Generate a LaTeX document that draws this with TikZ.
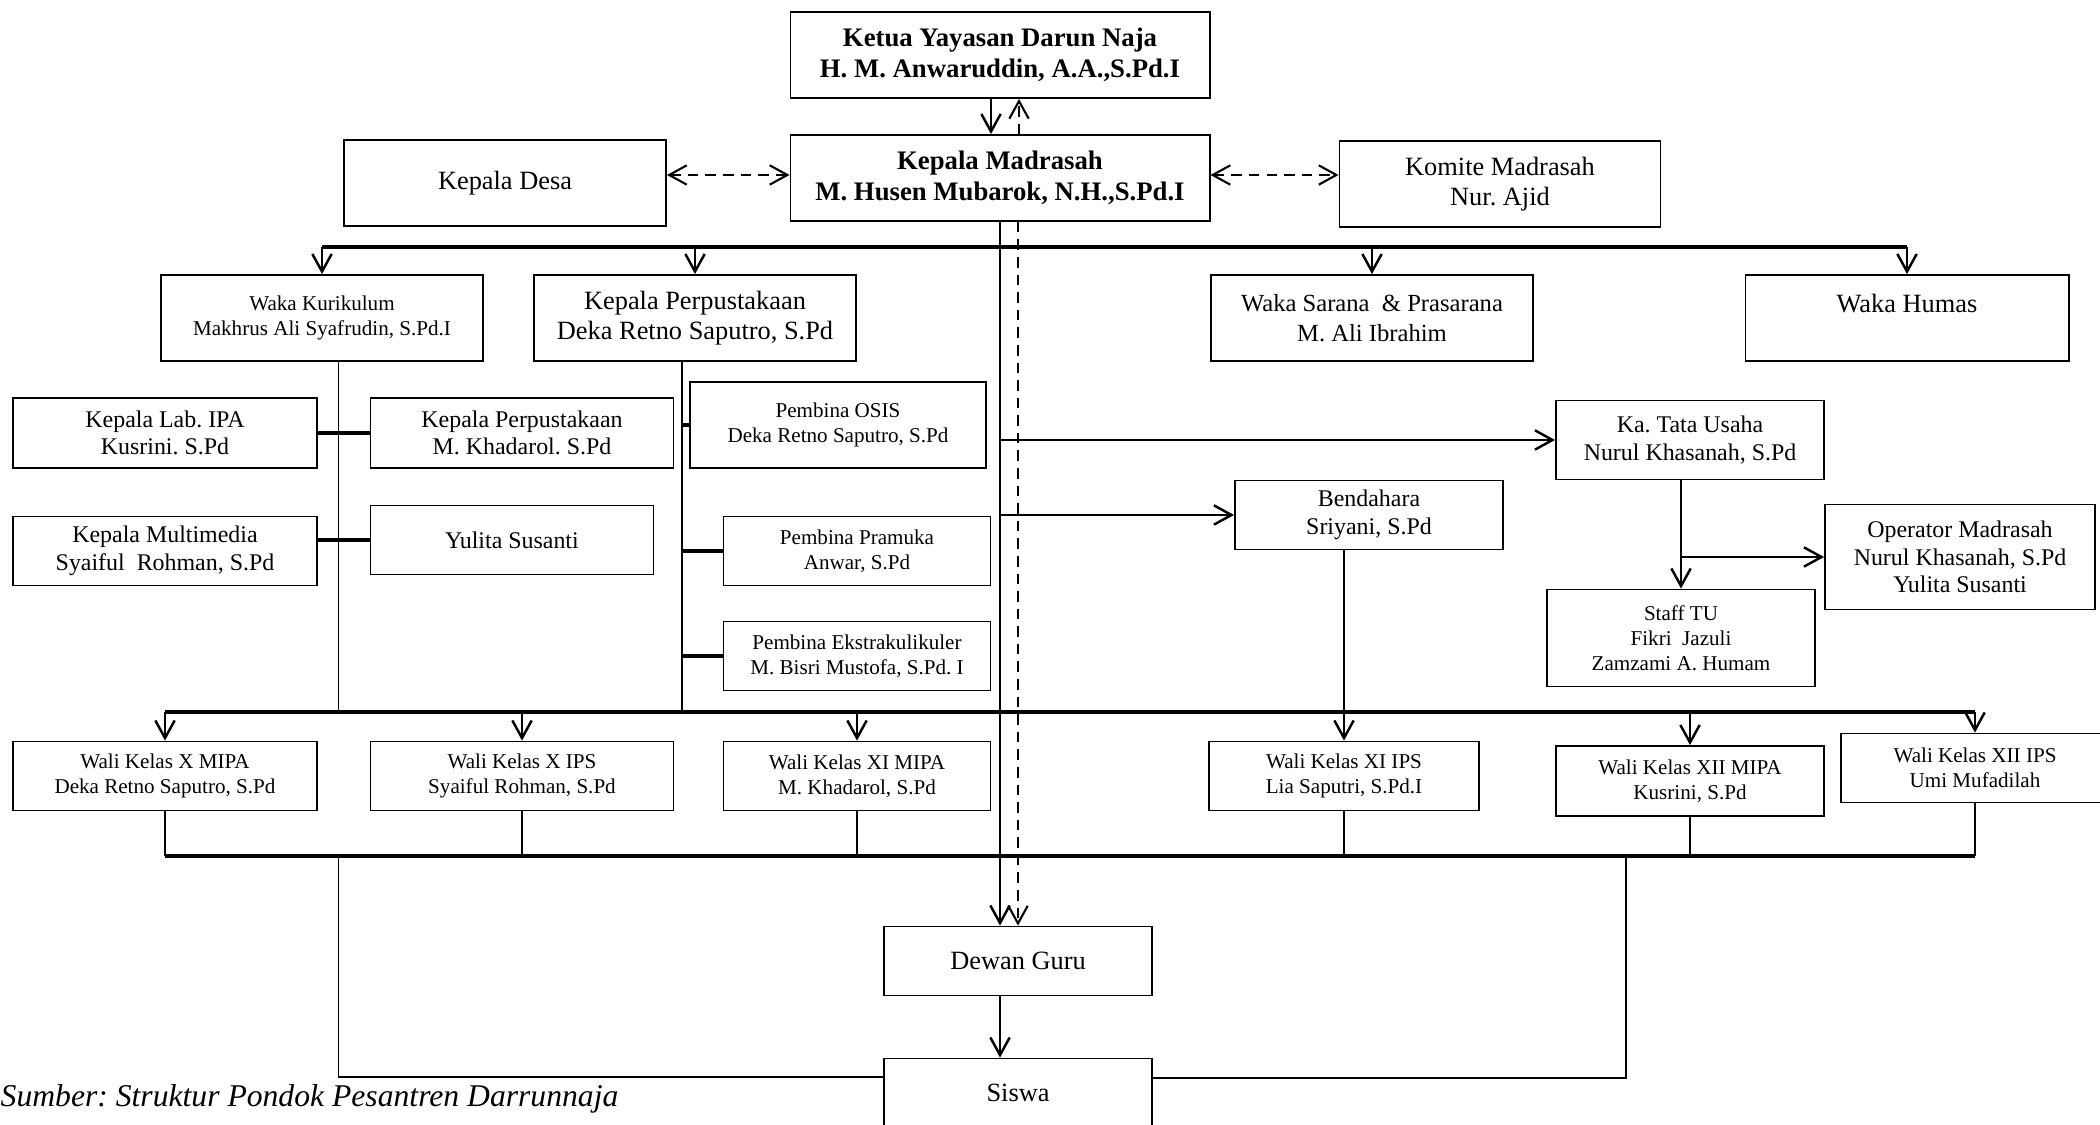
\documentclass[tikz,border=0pt]{standalone}
\usepackage{fontspec}
\setmainfont{Liberation Serif}
\usetikzlibrary{arrows.meta,calc}
\frenchspacing

\begin{document}
\begin{tikzpicture}[
    x=0.01cm, y=-0.01cm,
    >={Straight Barb[length=5pt,width=5.5pt]},
    orgbox/.style={rectangle, draw=black, line width=0.5pt, align=center, inner sep=1pt},
    head/.style={orgbox, font=\fontsize{7.6}{8.8}\selectfont\bfseries,
      minimum width=4.19cm, minimum height=0.86cm},
    big/.style={font=\fontsize{7.5}{8.6}\selectfont},
    mid/.style={font=\fontsize{6.8}{7.8}\selectfont},
    small/.style={font=\fontsize{6}{7.1}\selectfont},
    sz/.style 2 args={minimum width=#1cm, minimum height=#2cm},
    link/.style={line width=0.5pt},
    bus/.style={line width=0.9pt},
    flow/.style={->, line width=0.7pt},
    dflow/.style={->, line width=0.6pt, dash pattern=on 3pt off 2pt}
  ]
  \useasboundingbox (0,0) rectangle (2100,1125);
  % pimpinan
  \node[head] (ketua) at (1000,55) {Ketua Yayasan Darun Naja\\H. M. Anwaruddin, A.A.,S.Pd.I};
  \node[head] (kamad) at (1000,178) {Kepala Madrasah\\M. Husen Mubarok, N.H.,S.Pd.I};
  \node[orgbox, big, sz={3.22}{0.86}] (desa) at (505,183) {Kepala Desa};
  \node[orgbox, big, sz={3.21}{0.86}] (komite) at (1500,184) {Komite Madrasah\\Nur. Ajid};
  % waka
  \node[orgbox, small, sz={3.22}{0.86}] (kurikulum) at (322,318) {Waka Kurikulum\\Makhrus Ali Syafrudin, S.Pd.I};
  \node[orgbox, big, sz={3.22}{0.86}] (perpus) at (695,318) {Kepala Perpustakaan\\Deka Retno Saputro, S.Pd};
  \node[orgbox, font=\fontsize{7}{8.6}\selectfont, sz={3.22}{0.86}] (sarana) at (1372,318)
    {Waka Sarana~~\& Prasarana\\M. Ali Ibrahim};
  \node[orgbox, big, sz={3.23}{0.86}] (humas) at (1907,318) {Waka Humas\\~};
  % kiri
  \node[orgbox, mid, sz={3.04}{0.70}] (labipa) at (165,433) {Kepala Lab. IPA\\Kusrini. S.Pd};
  \node[orgbox, mid, sz={3.03}{0.70}] (perpus2) at (522,433) {Kepala Perpustakaan\\M. Khadarol. S.Pd};
  \node[orgbox, small, sz={2.96}{0.86}] (osis) at (838,425) {Pembina OSIS\\Deka Retno Saputro, S.Pd};
  \node[orgbox, mid, sz={3.04}{0.69}] (multimedia) at (165,551) {Kepala Multimedia\\Syaiful~~Rohman, S.Pd};
  \node[orgbox, mid, sz={2.83}{0.69}] (yulita) at (512,540) {Yulita Susanti};
  \node[orgbox, small, sz={2.67}{0.69}] (pramuka) at (857,551) {Pembina Pramuka\\Anwar, S.Pd};
  \node[orgbox, small, sz={2.67}{0.69}] (ekskul) at (857,656) {Pembina Ekstrakulikuler\\M. Bisri Mustofa, S.Pd. I};
  % kanan
  \node[orgbox, mid, sz={2.68}{0.79}] (katu) at (1690,440) {Ka. Tata Usaha\\Nurul Khasanah, S.Pd};
  \node[orgbox, mid, sz={2.68}{0.69}] (bendahara) at (1369,515) {Bendahara\\Sriyani, S.Pd};
  \node[orgbox, mid, sz={2.70}{1.05}] (operator) at (1960,557)
    {Operator Madrasah\\Nurul Khasanah, S.Pd\\Yulita Susanti};
  \node[orgbox, small, sz={2.68}{0.97}] (stafftu) at (1681,638) {Staff TU\\Fikri~~Jazuli\\Zamzami A. Humam};
  % wali kelas
  \node[orgbox, small, sz={3.04}{0.69}] (wxmipa) at (165,776) {Wali Kelas X MIPA\\Deka Retno Saputro, S.Pd};
  \node[orgbox, small, sz={3.03}{0.69}] (wxips) at (522,776) {Wali Kelas X IPS\\Syaiful Rohman, S.Pd};
  \node[orgbox, small, sz={2.67}{0.69}] (wximipa) at (857,776) {Wali Kelas XI MIPA\\M. Khadarol, S.Pd};
  \node[orgbox, small, sz={2.70}{0.69}] (wxiips) at (1344,776) {Wali Kelas XI IPS\\Lia Saputri, S.Pd.I};
  \node[orgbox, small, sz={2.68}{0.70}] (wxiimipa) at (1690,781) {Wali Kelas XII MIPA\\Kusrini, S.Pd};
  \node[orgbox, small, sz={2.68}{0.69}] (wxiiips) at (1975,768) {Wali Kelas XII IPS\\Umi Mufadilah};
  % guru & siswa
  \node[orgbox, big, sz={2.68}{0.69}] (dewan) at (1018,961) {Dewan Guru};
  \node[orgbox, big, sz={2.68}{0.69}] (siswa) at (1018,1093) {Siswa};
  \node[anchor=base west, inner sep=0pt, font=\fontsize{9}{10}\selectfont\itshape] (sumber) at (0,1106)
    {Sumber: Struktur Pondok Pesantren Darrunnaja};

  \coordinate (busA) at (0,247);
  \coordinate (busB) at (0,712);
  \coordinate (busC) at (0,856);
  \coordinate (kline) at ($(labipa.east)!0.4!(perpus2.west)$);
  \coordinate (pline) at ($(perpus2.east)!0.5!(osis.west)$);
  \coordinate (sline) at (1626,856);
  \coordinate (sleft) at ($(siswa.west)+(0,-16)$);
  \coordinate (sright) at ($(siswa.east)+(0,-15)$);

  % garis atas
  \draw[flow] ($(ketua.south)+(-9,0)$) -- ($(kamad.north)+(-9,0)$);
  \draw[dflow] ($(kamad.north)+(19,0)$) -- ($(ketua.south)+(19,0)$);
  \draw[dflow, <->] ($(desa.east |- kamad.west)+(0,-3)$) -- ($(kamad.west)+(0,-3)$);
  \draw[dflow, <->] ($(kamad.east)+(0,-3)$) -- ($(komite.west |- kamad.east)+(0,-3)$);
  \draw[bus] (kurikulum.north |- busA) -- (humas.north |- busA);
  \foreach \n in {kurikulum,perpus,sarana,humas}
    \draw[flow] (\n.north |- busA) -- (\n.north);

  % garis tengah
  \draw[flow] (kamad.south) -- (kamad.south |- dewan.north);
  \draw[dflow] ($(kamad.south)+(18,0)$) -- (dewan.north);
  \draw[flow] (kamad.south |- dewan.south) -- (kamad.south |- siswa.north);

  % kelompok kiri
  \draw[link] (kurikulum.south -| kline) -- (kline |- busB);
  \draw[link] (perpus.south -| pline) -- (pline |- busB);
  \draw[bus] (labipa.east) -- (perpus2.west);
  \draw[bus] (multimedia.east |- yulita.west) -- (yulita.west);
  \foreach \n in {osis,pramuka,ekskul}
    \draw[bus] (pline |- \n.west) -- (\n.west);

  % kelompok kanan
  \draw[flow] (kamad.south |- katu.west) -- (katu.west);
  \draw[flow] (kamad.south |- bendahara.west) -- (bendahara.west);
  \draw[flow] (katu.south -| stafftu.north) -- (stafftu.north);
  \draw[flow] (stafftu.north |- operator.west) -- (operator.west);
  \draw[flow] (bendahara.south -| wxiips.north) -- (wxiips.north);

  % wali kelas
  \draw[bus] (wxmipa.north |- busB) -- (wxiiips.north |- busB);
  \foreach \n in {wxmipa,wxips,wximipa,wxiimipa,wxiiips}
    \draw[flow] (\n.north |- busB) -- (\n.north);
  \draw[bus] (wxmipa.south |- busC) -- (wxiiips.south |- busC);
  \foreach \n in {wxmipa,wxips,wximipa,wxiips,wxiimipa,wxiiips}
    \draw[link] (\n.south) -- (\n.south |- busC);
  \draw[link] (kline |- busC) |- (sleft);
  \draw[link] (sline) |- (sright);
\end{tikzpicture}
\end{document}
